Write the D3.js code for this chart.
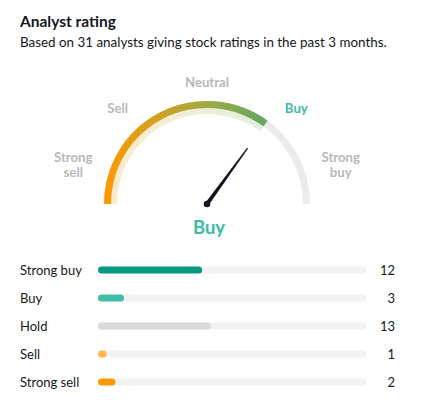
<!DOCTYPE html>
<html><head><meta charset="utf-8">
<script src="https://cdn.jsdelivr.net/npm/d3@7"></script>
<style>
html,body{margin:0;padding:0;background:#fff;}
svg{display:block;font-family:Lato,"DejaVu Sans Condensed",sans-serif;}
</style></head>
<body>
<svg id="chart" width="422" height="400"></svg>
<script>
const title = "Analyst rating";
const subtitle = "Based on 31 analysts giving stock ratings in the past 3 months.";
const gaugeLabels = ["Strong sell", "Sell", "Neutral", "Buy", "Strong buy"];
const gaugeScores = [-1, -0.5, 0, 0.5, 1];
const gaugeValue = 0.40;
const verdict = "Buy";
const categories = ["Strong buy", "Buy", "Hold", "Sell", "Strong sell"];
const counts = [12, 3, 13, 1, 2];
const barColors = ["#089981", "#42bda8", "#d9d9d9", "#ffb74d", "#ff9800"];
const totalAnalysts = 31;

const svg = d3.select("#chart");

svg.append("text").attr("x", 20).attr("y", 27)
  .attr("font-size", 15.5).attr("font-weight", "bold").attr("fill", "#131722").text(title);
svg.append("text").attr("x", 20).attr("y", 47)
  .attr("font-size", 13.4).attr("fill", "#131722").text(subtitle);

// gauge
const cx = 207, cy = 204, rOut = 103, band = 7;
const angle = d3.scaleLinear().domain([-1, 1]).range([-Math.PI / 2, Math.PI / 2]);
const g = svg.append("g").attr("transform", `translate(${cx},${cy})`);

const defs = svg.append("defs");
const grad = defs.append("linearGradient").attr("id", "gg")
  .attr("gradientUnits", "userSpaceOnUse")
  .attr("x1", -rOut).attr("y1", 0).attr("x2", 65).attr("y2", 0);
[["0", "#ff9800"], ["0.3", "#d3a11c"], ["0.62", "#9eaa45"], ["1", "#5ea763"]]
  .forEach(([o, c]) => grad.append("stop").attr("offset", o).attr("stop-color", c));

const arcOuter = d3.arc().innerRadius(rOut - band).outerRadius(rOut);
const arcInner = d3.arc().innerRadius(rOut - 2 * band + 1).outerRadius(rOut - band);

g.append("path").attr("d", arcOuter({startAngle: angle(-1), endAngle: angle(1)})).attr("fill", "#ebebeb");
g.append("path").attr("d", arcInner({startAngle: angle(-1), endAngle: angle(gaugeValue)}))
  .attr("fill", "url(#gg)").attr("opacity", 0.2);
g.append("path").attr("d", arcOuter({startAngle: angle(-1), endAngle: angle(gaugeValue)}))
  .attr("fill", "url(#gg)");

// labels around gauge
const labelAngle = d3.scaleLinear().domain([-1, -0.5, 0, 0.5, 1]).range([-73.5, -43, 0, 43, 73.5]);
const labelRadius = d3.scaleLinear().domain([0, 0.5, 1]).range([122, 131, 139.5]);
gaugeLabels.forEach((lab, i) => {
  const s = gaugeScores[i];
  const a = labelAngle(s) * Math.PI / 180, r = labelRadius(Math.abs(s));
  const x = r * Math.sin(a), y = -r * Math.cos(a);
  const isActive = lab === verdict;
  const words = lab.split(" ");
  const t = g.append("text").attr("text-anchor", "middle")
    .attr("font-size", 13.2).attr("font-weight", "bold")
    .attr("fill", isActive ? "#3dbba5" : "#b8b8b8");
  words.forEach((w, j) => {
    t.append("tspan").attr("x", x)
      .attr("y", y + 5 + (j - (words.length - 1) / 2) * 15.5).text(w);
  });
});

// needle
const na = angle(gaugeValue), nl = 69;
const tip = [nl * Math.sin(na), -nl * Math.cos(na)];
const px = Math.cos(na), py = Math.sin(na);
const needle = [[2 * px, 2 * py], [tip[0] + 0.6 * px, tip[1] + 0.6 * py], [tip[0] - 0.6 * px, tip[1] - 0.6 * py], [-2 * px, -2 * py]];
g.append("path").attr("d", d3.line()(needle) + "Z").attr("fill", "#131722");
g.append("circle").attr("r", 3.3).attr("fill", "#131722");

g.append("text").attr("x", 2).attr("y", 29.5).attr("text-anchor", "middle")
  .attr("font-size", 18.5).attr("font-weight", "bold").attr("fill", "#3dbba5").text(verdict);

// bars
const x = d3.scaleLinear().domain([0, totalAnalysts]).range([98, 367]);
const y = d3.scalePoint().domain(categories).range([270, 382]);
const bh = 7;
const rows = svg.append("g").selectAll("g").data(categories).join("g")
  .attr("transform", d => `translate(0,${y(d)})`);
rows.append("text").attr("x", 20).attr("y", 4.5).attr("font-size", 13).attr("fill", "#131722").text(d => d);
rows.append("rect").attr("x", x(0)).attr("y", -bh / 2).attr("width", x(totalAnalysts) - x(0))
  .attr("height", bh).attr("rx", bh / 2).attr("fill", "#f2f2f2");
rows.append("rect").attr("x", x(0)).attr("y", -bh / 2)
  .attr("width", (d, i) => Math.max(bh, x(counts[i]) - x(0)))
  .attr("height", bh).attr("rx", bh / 2).attr("fill", (d, i) => barColors[i]);
rows.append("text").attr("x", 395).attr("y", 4.5).attr("text-anchor", "end")
  .attr("font-size", 13).attr("fill", "#131722").text((d, i) => counts[i]);
</script>
</body></html>
